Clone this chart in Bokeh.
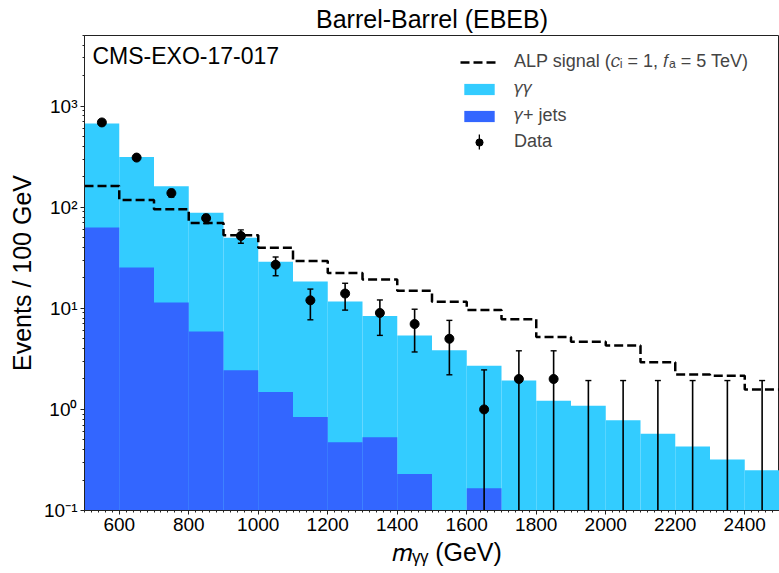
import numpy as np
from bokeh.plotting import figure
from bokeh.models import (ColumnDataSource, FixedTicker, Legend, LegendItem, Label, Range1d)
from bokeh.embed import file_html
from bokeh.resources import INLINE

# ---------------- data ----------------
bin_edges = [500, 600, 700, 800, 900, 1000, 1100, 1200, 1300, 1400, 1500,
             1600, 1700, 1800, 1900, 2000, 2100, 2200, 2300, 2400, 2500]
# stacked background total (gamma gamma + gamma+jets), events / 100 GeV
bkg_total = [673, 314, 161, 88, 50, 28.9, 18.4, 11.7, 8.4, 5.4,
             3.84, 2.70, 1.93, 1.22, 1.09, 0.78, 0.575, 0.43, 0.32, 0.25]
# gamma + jets component
gjets = [63, 25.4, 11.4, 5.9, 2.44, 1.49, 0.84, 0.474, 0.53, 0.23,
         0, 0.166, 0, 0, 0, 0, 0, 0, 0, 0]
# ALP signal (c_i = 1, f_a = 5 TeV)
alp_signal = [162, 118, 95.5, 70, 52.7, 39.8, 29.4, 22.3, 19.3, 14.9,
              11.6, 9.6, 7.8, 5.2, 4.67, 4.3, 2.92, 2.22, 2.15, 1.57]
# observed data and its (asymmetric) uncertainties
data_counts = [690, 310, 138, 78, 52, 27, 12, 14, 9, 7,
               5, 1, 2, 2, 0, 0, 0, 0, 0, 0]
err_up = [26, 18, 12, 7, 7.7, 5.2, 3.5, 3.7, 3.1, 2.8,
          2.6, 1.46, 1.8, 1.8, 1.93, 1.93, 1.93, 1.93, 1.93, 1.93]
err_down = [26, 18, 12, 9, 8, 6, 4.3, 4.4, 3.6, 3.3,
            2.8, 1, 2, 2, 0, 0, 0, 0, 0, 0]

x_ticks = [600, 800, 1000, 1200, 1400, 1600, 1800, 2000, 2200, 2400]
y_ticks = [0.1, 1, 10, 100, 1000]
y_tick_labels = ["10\u207b\u00b9", "10\u2070", "10\u00b9", "10\u00b2", "10\u00b3"]

# ---------------- styling ----------------
FONT = "Liberation Sans"
LIGHT = "#33ccff"
DARK = "#3366ff"
FLOOR = 1e-3  # below the visible range (log axis)

edges = np.array(bin_edges, dtype=float)
left, right = edges[:-1], edges[1:]
centers = 0.5 * (left + right)

p = figure(width=779, height=573, x_range=Range1d(500, 2500), y_range=Range1d(0.1, 5000),
           y_axis_type="log", output_backend="svg", toolbar_location=None,
           min_border_left=84, min_border_right=0, min_border_top=35, min_border_bottom=63)
p.background_fill_color = "white"
p.border_fill_color = "white"
p.outline_line_color = "#222222"
p.outline_line_width = 1
p.grid.visible = False

p.title.text = "Barrel-Barrel (EBEB)"
p.title.align = "center"
p.title.vertical_align = "middle"
p.title.text_font = FONT
p.title.text_font_size = "25px"
p.title.text_font_style = "normal"
p.title.text_color = "black"
p.title.standoff = 4

# backgrounds
tot_src = ColumnDataSource(dict(left=left, right=right, top=np.array(bkg_total), bottom=np.full(len(left), FLOOR)))
r_gg = p.quad(left="left", right="right", top="top", bottom="bottom", source=tot_src,
              fill_color=LIGHT, line_color=None)
gj = np.array(gjets)
mask = gj > 0
jet_src = ColumnDataSource(dict(left=left[mask], right=right[mask], top=gj[mask],
                                bottom=np.full(mask.sum(), FLOOR)))
r_gj = p.quad(left="left", right="right", top="top", bottom="bottom", source=jet_src,
              fill_color=DARK, line_color=None)

# signal step line
sig_x = list(edges)
sig_y = list(alp_signal) + [alp_signal[-1]]
r_sig = p.step(sig_x, sig_y, mode="after", line_color="black", line_width=2.5, line_dash="9 4")

# data with error bars
dc = np.array(data_counts, dtype=float)
eu = np.array(err_up)
ed = np.array(err_down)
hi = dc + eu
lo = np.maximum(dc - ed, FLOOR)
err_src = ColumnDataSource(dict(x=centers, hi=hi, lo=lo))
p.segment(x0="x", x1="x", y0="lo", y1="hi", source=err_src, line_color="black", line_width=1.6)
p.scatter(x="x", y="hi", source=err_src, marker="dash", size=6, line_color="black", line_width=1.4)
p.scatter(x="x", y="lo", source=err_src, marker="dash", size=6, line_color="black", line_width=1.4)
pos = dc > 0
pt_src = ColumnDataSource(dict(x=centers[pos], y=dc[pos]))
r_pts = p.scatter(x="x", y="y", source=pt_src, marker="circle", size=9,
                  fill_color="black", line_color="black")
# thin black quad used only as the legend's error-bar symbol; it sits on the
# zero-count bins with zero height, which the log axis cannot show
zero_src = ColumnDataSource(dict(x0=centers[~pos], x1=centers[~pos], y=dc[~pos]))
r_bar = p.quad(left="x0", right="x1", top="y", bottom="y", source=zero_src,
               fill_color="black", line_color=None)

# axes
xa = p.xaxis[0]
xa.ticker = FixedTicker(ticks=x_ticks, minor_ticks=list(range(500, 2501, 20)))
ya = p.yaxis[0]
minors = [m * 10.0 ** e for e in range(-1, 4) for m in range(2, 10)]
ya.ticker = FixedTicker(ticks=y_ticks, minor_ticks=minors)
ya.major_label_overrides = {t: s for t, s in zip(y_ticks, y_tick_labels)}
for ax in (xa, ya):
    ax.major_label_text_font = FONT
    ax.major_label_text_font_size = "19px"
    ax.major_label_text_color = "black"
    ax.major_tick_out = 4
    ax.major_tick_in = 0
    ax.minor_tick_out = 2
    ax.minor_tick_in = 0
    ax.axis_line_color = "#222222"
    ax.major_tick_line_color = "#222222"
    ax.minor_tick_line_color = "#222222"
    ax.major_label_standoff = 3
ya.axis_label = "Events / 100 GeV"
ya.axis_label_text_font = FONT
ya.axis_label_text_font_size = "25px"
ya.axis_label_text_font_style = "normal"
ya.axis_label_text_color = "black"
ya.axis_label_standoff = 5

xa.axis_label = "\u2003\u2009\U0001d45a\u1d67\u1d67 (GeV)"
xa.axis_label_text_font = FONT
xa.axis_label_text_font_size = "25px"
xa.axis_label_text_font_style = "normal"
xa.axis_label_text_color = "black"
xa.axis_label_standoff = 4

# experiment tag
p.add_layout(Label(x=8, y=442, x_units="screen", y_units="screen", text="CMS-EXO-17-017",
                   text_font=FONT, text_font_size="23px", text_color="black"))

common = dict(padding=0, margin=0, label_text_font=FONT, label_text_font_size="18px",
              border_line_alpha=0, background_fill_alpha=0)
legend_main = Legend(items=[
    LegendItem(label="ALP signal (\U0001d450\u1d62 = 1, \U0001d453\u2090 = 5 TeV)", renderers=[r_sig]),
    LegendItem(label="\U0001d6fe\U0001d6fe", renderers=[r_gg]),
    LegendItem(label="\U0001d6fe+ jets", renderers=[r_gj]),
], location=(376, 384), glyph_width=38, glyph_height=14, label_height=14, spacing=6,
    label_standoff=16, **common)
legend_data = Legend(items=[LegendItem(label="Data", renderers=[r_pts])],
                     location=(376, 358), glyph_width=38, glyph_height=18, label_height=18,
                     label_standoff=16, **common)
legend_bar = Legend(items=[LegendItem(label=" ", renderers=[r_bar])],
                    location=(394, 359), glyph_width=2, glyph_height=19, label_height=19,
                    label_standoff=0, padding=0, margin=0, label_text_font_size="1px",
                    border_line_alpha=0, background_fill_alpha=0)
p.add_layout(legend_main)
p.add_layout(legend_bar)
p.add_layout(legend_data)

open("out.html", "w").write(file_html(p, INLINE))
